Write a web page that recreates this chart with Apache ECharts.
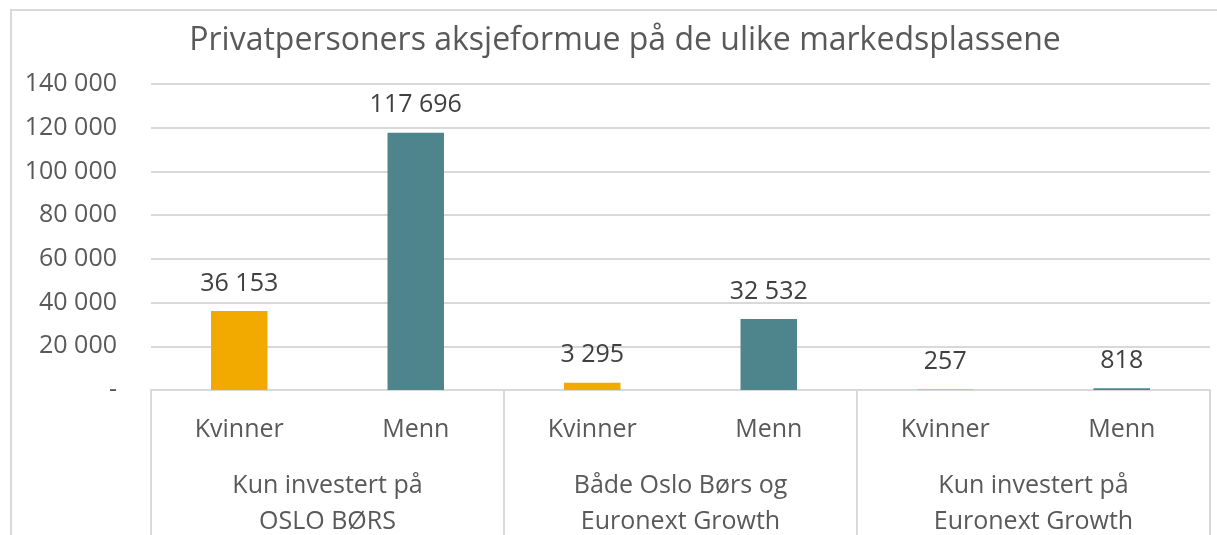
<!DOCTYPE html>
<html>
<head>
<meta charset="utf-8">
<script src="https://cdn.jsdelivr.net/npm/echarts@6/dist/echarts.min.js"></script>
<style>
  html, body { margin: 0; padding: 0; background: #fff; }
  #chart { width: 1217px; height: 535px; }
</style>
</head>
<body>
<div id="chart"></div>
<script>
// data
const groups = ["Kun investert på\nOSLO BØRS", "Både Oslo Børs og\nEuronext Growth", "Kun investert på\nEuronext Growth"];
const genders = ["Kvinner", "Menn"];
const kvinner = [36153, 3295, 257];
const menn = [117696, 32532, 818];
const yTicks = [0, 20000, 40000, 60000, 80000, 100000, 120000, 140000];

const colors = { Kvinner: "#F2AA00", Menn: "#4E858C" };
const textColor = "#595959";
const fontFamily = "'Open Sans', sans-serif";

// interleave into 6 categories
const cats = [];
const barData = [];
groups.forEach((g, i) => {
  cats.push("Kvinner");
  barData.push({ value: kvinner[i], itemStyle: { color: colors.Kvinner } });
  cats.push("Menn");
  barData.push({ value: menn[i], itemStyle: { color: colors.Menn } });
});

const fmt = (v) => v === 0 ? "-" : String(v).replace(/\B(?=(\d{3})+(?!\d))/g, " ");

const chart = echarts.init(document.getElementById("chart"));
chart.setOption({
  animation: false,
  textStyle: { fontFamily: fontFamily },
  title: {
    text: "Privatpersoners aksjeformue på de ulike markedsplassene",
    left: 620,
    top: 20,
    textAlign: "center",
    textStyle: { color: textColor, fontSize: 32, fontWeight: "normal", fontFamily: fontFamily },
  },
  graphic: [
    {
      type: "polyline",
      shape: { points: [[11, 600], [11, 10], [1300, 10]] },
      style: { stroke: "#D9D9D9", lineWidth: 2, fill: null },
      silent: true,
    },
  ],
  grid: { left: 151, right: 7, top: 84, bottom: 145, containLabel: false, outerBoundsMode: "none" },
  xAxis: [
    {
      type: "category",
      data: cats,
      position: "bottom",
      axisLine: { show: true, lineStyle: { color: "#D9D9D9", width: 2 } },
      axisTick: { show: false },
      axisLabel: { color: textColor, fontSize: 25, margin: 27, interval: 0 },
    },
    {
      type: "category",
      data: groups,
      position: "bottom",
      axisLine: { show: false },
      axisTick: { show: true, length: 160, interval: 0, lineStyle: { color: "#D9D9D9", width: 2 } },
      axisLabel: { color: textColor, fontSize: 25, margin: 78, lineHeight: 36, interval: 0 },
    },
  ],
  yAxis: {
    type: "value",
    min: 0,
    max: 140000,
    interval: 20000,
    axisLine: { show: false },
    axisTick: { show: false },
    splitLine: { lineStyle: { color: "#D9D9D9", width: 2 } },
    axisLabel: {
      color: textColor,
      fontSize: 25,
      margin: 34,
      formatter: (v) => yTicks.includes(v) ? fmt(v) : "",
    },
  },
  series: [
    {
      type: "bar",
      xAxisIndex: 0,
      data: barData,
      barWidth: "32%",
      label: {
        show: true,
        position: "top",
        distance: 15,
        color: "#404040",
        fontSize: 25,
        formatter: (p) => fmt(p.value),
      },
    },
  ],
});
</script>
</body>
</html>
